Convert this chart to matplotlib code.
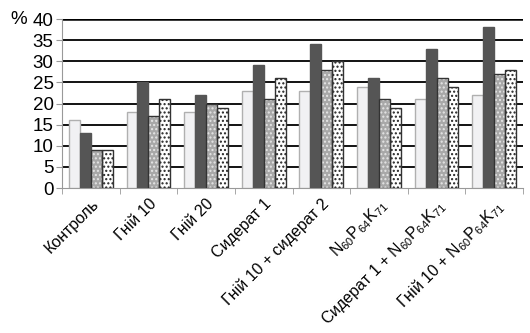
import matplotlib

matplotlib.use("Agg")
import matplotlib.pyplot as plt
import numpy as np

plt.rcParams["font.family"] = ["Liberation Sans", "DejaVu Sans"]
plt.rcParams["mathtext.fontset"] = "custom"
plt.rcParams["mathtext.rm"] = "Liberation Sans"
plt.rcParams["mathtext.it"] = "Liberation Sans"
plt.rcParams["hatch.linewidth"] = 1.0

# ---- data ------------------------------------------------------------------
categories = [
    "Контроль",
    "Гній 10",
    "Гній 20",
    "Сидерат 1",
    "Гній 10 + сидерат 2",
    r"N$_{60}$P$_{64}$K$_{71}$",
    r"Сидерат 1 + N$_{60}$P$_{64}$K$_{71}$",
    r"Гній 10 + N$_{60}$P$_{64}$K$_{71}$",
]
series_1 = [16, 18, 18, 23, 23, 24, 21, 22]
series_2 = [13, 25, 22, 29, 34, 26, 33, 38]
series_3 = [9, 17, 20, 21, 28, 21, 26, 27]
series_4 = [9, 21, 19, 26, 30, 19, 24, 28]
y_ticks = [0, 5, 10, 15, 20, 25, 30, 35, 40]

fig = plt.figure(figsize=(5.30, 3.33), dpi=100)
ax = fig.add_axes([62 / 530, 1 - 188 / 333, 461 / 530, 169 / 333])

x = np.arange(len(categories))
w = 0.19
styles = [
    dict(color="#f1f1f3", edgecolor="#b0b0b0", hatch=None),
    dict(color="#555555", edgecolor="#555555", hatch=None),
    dict(color="#a8a8a8", edgecolor="#e6e6e6", hatch="...."),
    dict(color="white", edgecolor="#222222", hatch="...."),
]
for i, (vals, st) in enumerate(zip([series_1, series_2, series_3, series_4], styles)):
    pos = x + (i - 1.5) * w
    ax.bar(pos, vals, w, color=st["color"], edgecolor=st["edgecolor"],
           hatch=st["hatch"], linewidth=0 if st["hatch"] else 1.0, zorder=3)
    if st["hatch"]:
        ax.bar(pos, vals, w, fill=False, edgecolor="#333333", linewidth=1.0, zorder=4)

ax.set_xlim(-0.5, len(categories) - 0.5)
ax.set_ylim(0, 40)
ax.set_yticks(y_ticks)
ax.set_yticklabels([str(t) for t in y_ticks], fontsize=13.5)
for t in y_ticks[1:]:
    ax.axhline(t, color="black", lw=1.3 if t < 40 else 1.8, zorder=1)

ax.set_xticks(x)
ax.set_xticklabels(categories, rotation=45, ha="right", rotation_mode="anchor", fontsize=11.5)
ax.tick_params(axis="x", length=0, pad=6)
ax.set_xticks(np.arange(-0.5, len(categories)), minor=True)
ax.tick_params(axis="x", which="minor", length=4, color="#999999", direction="out")
ax.tick_params(axis="y", length=4, color="#999999", pad=2)

for s in ["top", "right"]:
    ax.spines[s].set_visible(False)
ax.spines["left"].set_color("#999999")
ax.spines["bottom"].set_color("#999999")

fig.text(10 / 530, 1 - 19 / 333, "%", fontsize=13.5, ha="left", va="center")

fig.savefig("out.png", dpi=100)
